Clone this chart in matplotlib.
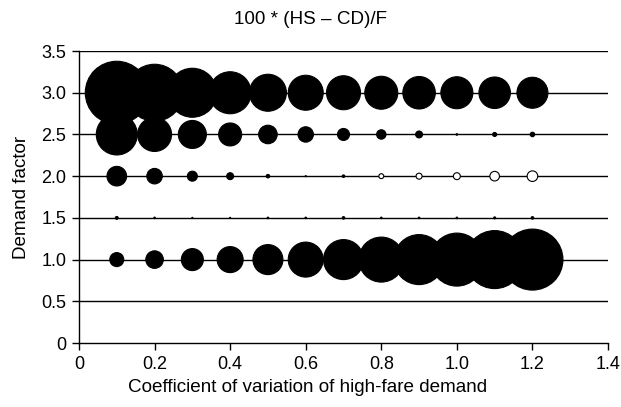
import matplotlib
matplotlib.use("Agg")
import matplotlib.pyplot as plt
import numpy as np

plt.rcParams['font.family'] = ['Liberation Sans', 'DejaVu Sans']

# coefficient of variation of high-fare demand
cv = [0.1, 0.2, 0.3, 0.4, 0.5, 0.6, 0.7, 0.8, 0.9, 1.0, 1.1, 1.2]
# demand factor rows
factors = [3.0, 2.5, 2.0, 1.5, 1.0]

# 100 * (HS - CD)/F (negative = hollow bubble)
v_30 = [9.92, 8.12, 6.00, 4.41, 3.42, 3.06, 2.89, 2.72, 2.64, 2.56, 2.48, 2.40]
v_25 = [4.20, 2.89, 1.96, 1.32, 0.86, 0.59, 0.36, 0.22, 0.12, 0.006, 0.04, 0.05]
v_20 = [0.96, 0.60, 0.25, 0.12, 0.03, 0.003, 0.016, -0.06, -0.09, -0.12, -0.23, -0.28]
v_15 = [0.02, 0.006, 0.003, 0.003, 0.006, 0.006, 0.016, 0.006, 0.006, 0.006, 0.01, 0.016]
v_10 = [0.49, 0.77, 1.21, 1.69, 2.25, 3.06, 4.00, 5.06, 6.25, 7.02, 8.41, 9.30]
rows = [v_30, v_25, v_20, v_15, v_10]

xticks = [0, 0.2, 0.4, 0.6, 0.8, 1.0, 1.2, 1.4]
xticklabels = ['0', '0.2', '0.4', '0.6', '0.8', '1.0', '1.2', '1.4']
yticks = [0, 0.5, 1.0, 1.5, 2.0, 2.5, 3.0, 3.5]
yticklabels = ['0', '0.5', '1.0', '1.5', '2.0', '2.5', '3.0', '3.5']

fig = plt.figure(figsize=(6.21, 4.07), dpi=100)
ax = fig.add_axes([0.1272, 0.1572, 0.8519, 0.7174])

for y in yticks[1:]:
    ax.axhline(y, color='black', lw=1.0, zorder=1)

# bubble diameter in px = 20*sqrt(|v|); 1 px = 0.72 pt at 100 dpi
for f, vals in zip(factors, rows):
    v = np.array(vals)
    d_pt = 20 * np.sqrt(np.abs(v)) * 0.72
    faces = ['white' if x < 0 else 'black' for x in v]
    ax.scatter(np.array(cv), np.full(len(v), f), s=d_pt ** 2, c=faces,
               edgecolors='black', linewidths=0.8, zorder=3)

ax.set_xlim(0, 1.4)
ax.set_ylim(0, 3.5)
ax.set_xticks(xticks)
ax.set_xticklabels(xticklabels)
ax.set_yticks(yticks)
ax.set_yticklabels(yticklabels)
ax.tick_params(direction='out', length=5, width=1, labelsize=13, colors='black', pad=4)
for s in ['top', 'right']:
    ax.spines[s].set_visible(False)
for s in ['left', 'bottom']:
    ax.spines[s].set_linewidth(1)

fig.text(0.5, 1 - 20 / 407, '100 * (HS \u2013 CD)/F', fontsize=13.6,
         ha='center', va='center')
fig.text(308 / 621, 1 - 388 / 407, 'Coefficient of variation of high-fare demand',
         fontsize=13.6, ha='center', va='center')
ax.set_ylabel('Demand factor', fontsize=13.6, labelpad=8)

fig.savefig('out.png', dpi=100)
